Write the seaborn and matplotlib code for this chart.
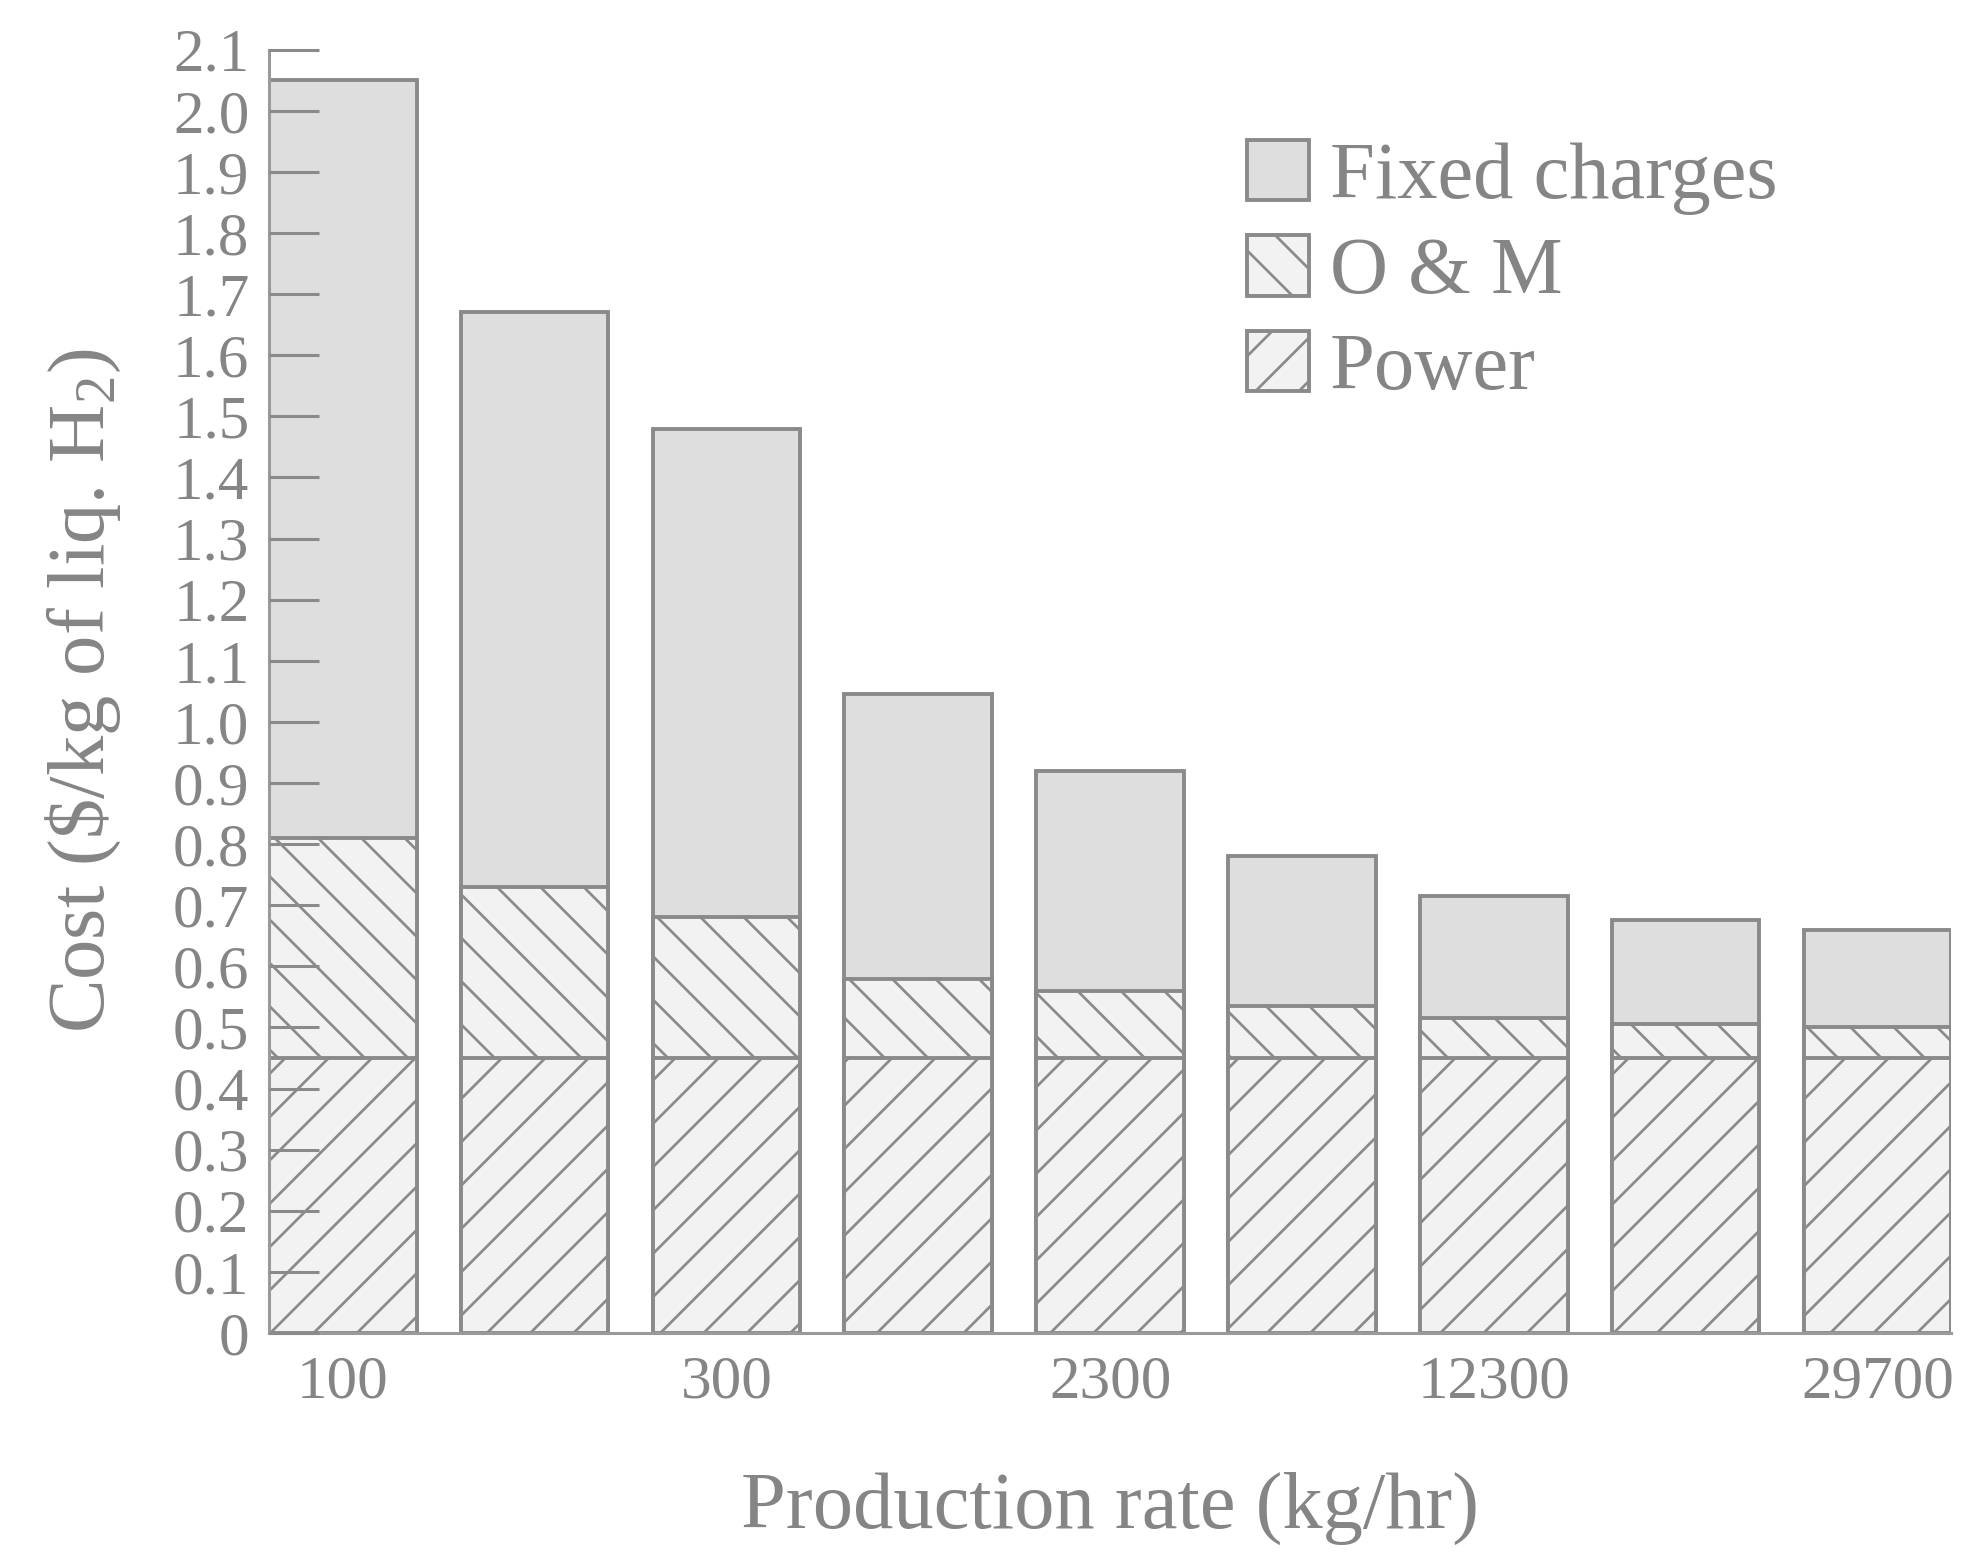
import matplotlib.pyplot as plt
import seaborn as sns
import pandas as pd

# values ($/kg of liquid H2)
rate_labels = ['100', '', '300', '', '2300', '', '12300', '', '29700']
power = [0.45, 0.45, 0.45, 0.45, 0.45, 0.45, 0.45, 0.45, 0.45]
om = [0.36, 0.28, 0.23, 0.13, 0.11, 0.085, 0.065, 0.055, 0.05]
fixed = [1.24, 0.94, 0.80, 0.465, 0.36, 0.245, 0.20, 0.17, 0.16]
legend_labels = ['Fixed charges', 'O & M', 'Power']
yticks = [i / 10 for i in range(22)]

df = pd.DataFrame({'pos': range(len(rate_labels)), 'power': power, 'om': om, 'fixed': fixed})
df['om_top'] = df['power'] + df['om']
df['total'] = df['om_top'] + df['fixed']

# dpi picked so the hatch spacing matches the scan; sizes scaled with k
dpi = 260
k = 200 / dpi

sns.set_theme(style='white')
plt.rcParams['font.family'] = ['Liberation Serif', 'DejaVu Serif']
plt.rcParams['mathtext.fontset'] = 'custom'
plt.rcParams['mathtext.rm'] = 'Liberation Serif'
plt.rcParams['mathtext.it'] = 'Liberation Serif'
edge = '#8a8a8a'
txt = '#858585'
plt.rcParams['hatch.color'] = edge
plt.rcParams['hatch.linewidth'] = 0.75

fig = plt.figure(figsize=(1977 / dpi, 1553 / dpi), dpi=dpi)
ax = fig.add_axes([0.136, 0.1417, 0.851, 0.8263])

w = 0.77
lw = 1.4 * k
sns.barplot(data=df, x='pos', y='total', color='#dedede', saturation=1, width=w,
            edgecolor=edge, linewidth=lw, ax=ax)
sns.barplot(data=df, x='pos', y='om_top', color='#f2f2f2', saturation=1, width=w,
            edgecolor=edge, linewidth=lw, hatch='\\\\', ax=ax)
sns.barplot(data=df, x='pos', y='power', color='#f2f2f2', saturation=1, width=w,
            edgecolor=edge, linewidth=lw, hatch='//', ax=ax)

ax.set_axisbelow(False)
ax.set_xlim(-w / 2, len(rate_labels) - 1 + w / 2)
ax.set_ylim(0, 2.1)
ax.set_yticks(yticks)
ax.set_yticklabels(['0'] + ['%.1f' % v for v in yticks[1:]])
ax.set_xticks(range(len(rate_labels)))
ax.set_xticklabels(rate_labels)

for s in ['top', 'right']:
    ax.spines[s].set_visible(False)
for s in ['left', 'bottom']:
    ax.spines[s].set_color('#9a9a9a')
    ax.spines[s].set_linewidth(1.1 * k)

ax.tick_params(axis='y', direction='in', length=18 * k, width=1.1 * k, color='#8a8a8a',
               labelsize=22 * k, labelcolor=txt, pad=7 * k, left=True)
ax.tick_params(axis='x', length=0, labelsize=22 * k, labelcolor=txt, pad=8 * k)

ax.set_xlabel('Production rate (kg/hr)', fontsize=29 * k, color=txt, labelpad=22 * k)
ax.set_ylabel(r'Cost (\$/kg of liq. H$_2$)', fontsize=29 * k, color=txt, labelpad=18 * k)

leg = ax.legend([ax.containers[0], ax.containers[1], ax.containers[2]], legend_labels,
                loc='upper left', bbox_to_anchor=(0.562, 0.955), frameon=False,
                fontsize=29 * k, handlelength=0.78, handleheight=0.78,
                handletextpad=0.25, labelspacing=0.25, borderaxespad=0)
for t in leg.get_texts():
    t.set_color(txt)

fig.savefig('out.png', dpi=dpi)
